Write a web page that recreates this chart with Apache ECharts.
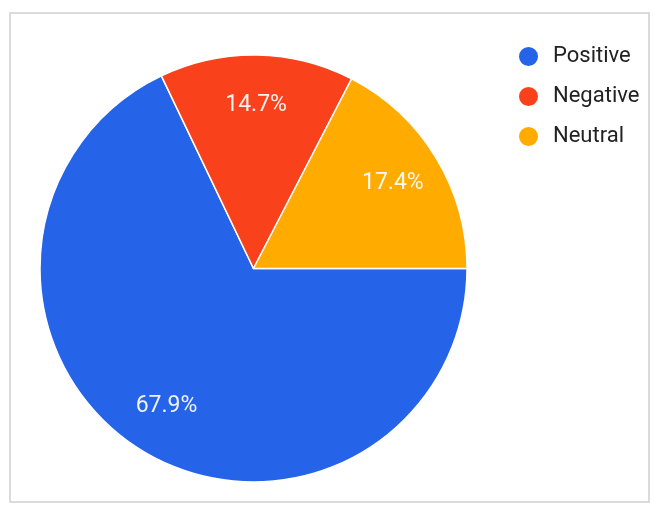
<!DOCTYPE html>
<html>
<head>
<meta charset="utf-8">
<script src="https://cdn.jsdelivr.net/npm/echarts@6/dist/echarts.min.js"></script>
<style>
  html, body { margin: 0; padding: 0; background: #ffffff; }
  #chart { width: 657px; height: 505px; }
</style>
</head>
<body>
<div id="chart"></div>
<script>
// Sentiment shares (percent)
const categories = ['Positive', 'Negative', 'Neutral'];
const values = [67.9, 14.7, 17.4];
const colors = ['#2563e8', '#f9421c', '#ffab00'];

const chart = echarts.init(document.getElementById('chart'), null, { renderer: 'canvas' });

const R = 213.5;
const center = [253.5, 268.5];
const pieData = categories.map((name, i) => ({ name, value: values[i], itemStyle: { color: colors[i] } }));

chart.setOption({
  animation: false,
  backgroundColor: '#ffffff',
  graphic: [{
    type: 'rect',
    shape: { x: 10, y: 13, width: 639, height: 489 },
    style: { fill: 'none', stroke: '#cfcfcf', lineWidth: 1.5 },
    z: -1
  }],
  legend: {
    orient: 'vertical',
    left: 512,
    top: 40,
    icon: 'circle',
    itemWidth: 21,
    itemHeight: 21,
    itemGap: 17,
    data: categories,
    textStyle: {
      fontFamily: 'Roboto',
      fontSize: 22,
      color: '#222222',
      padding: [0, 0, 0, 9]
    }
  },
  series: [
    {
      // filled slices
      type: 'pie',
      center: center,
      radius: [0, R],
      startAngle: 0,
      clockwise: true,
      avoidLabelOverlap: false,
      label: { show: false },
      labelLine: { show: false },
      itemStyle: { borderColor: '#ffffff', borderWidth: 1.5 },
      emphasis: { disabled: true },
      data: pieData
    },
    {
      // percentage labels, placed on a transparent ring
      type: 'pie',
      center: center,
      radius: [R * 0.5, R],
      startAngle: 0,
      clockwise: true,
      silent: true,
      avoidLabelOverlap: false,
      itemStyle: { color: 'rgba(0,0,0,0)' },
      labelLine: { show: false },
      emphasis: { disabled: true },
      label: {
        show: true,
        position: 'inside',
        fontFamily: 'Roboto',
        fontSize: 23,
        color: 'rgba(255,255,255,0.92)',
        formatter: p => p.value.toFixed(1) + '%'
      },
      data: categories.map((name, i) => ({ name, value: values[i] }))
    }
  ]
});
</script>
</body>
</html>
